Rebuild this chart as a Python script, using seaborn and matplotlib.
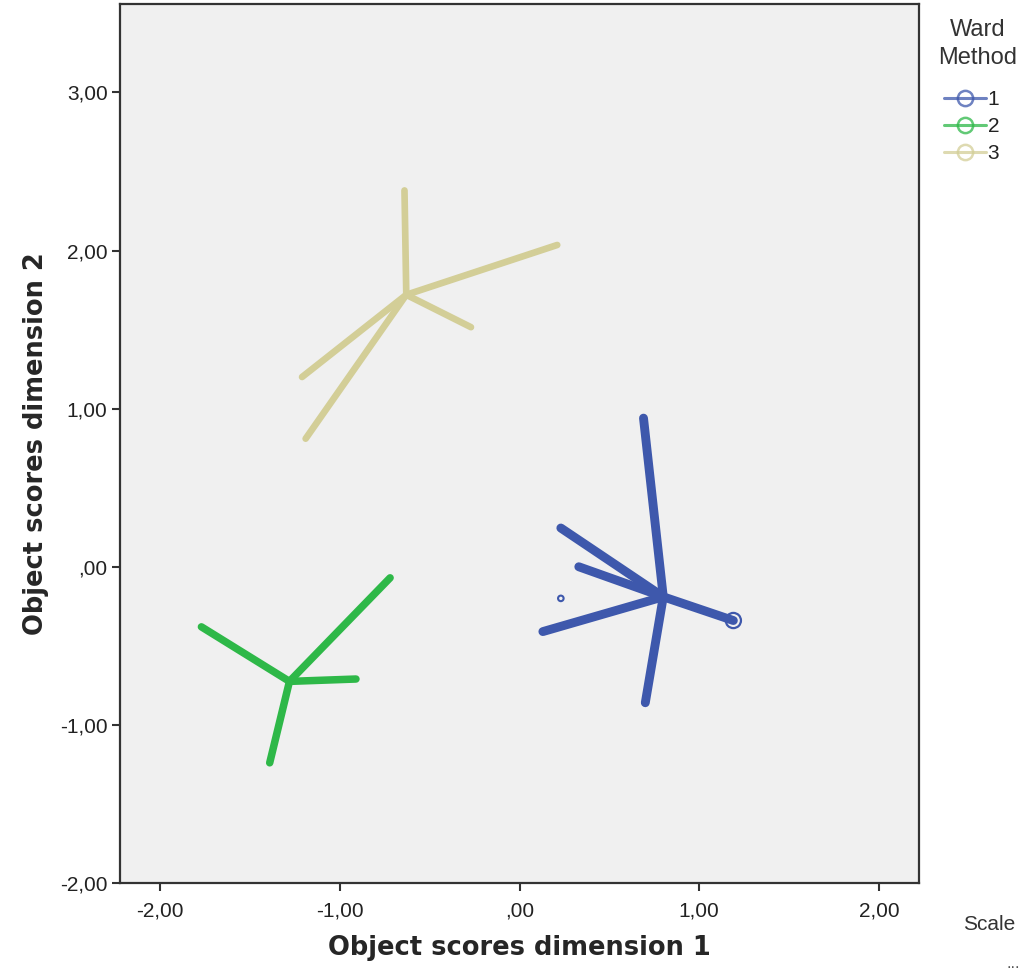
import matplotlib
matplotlib.use("Agg")
import matplotlib.pyplot as plt
from matplotlib.lines import Line2D
from matplotlib.ticker import FuncFormatter
import numpy as np
import pandas as pd
import seaborn as sns

# Ward clusters: centroid and the object scores joined to it
clusters = ["1", "2", "3"]
centroid_1 = (0.80, -0.19)
points_1_x = [0.69, 0.70, 0.23, 0.33, 0.13, 1.19]
points_1_y = [0.94, -0.86, 0.245, 0.00, -0.41, -0.34]
centroid_2 = (-1.28, -0.725)
points_2_x = [-1.77, -0.72, -0.91, -1.39]
points_2_y = [-0.38, -0.07, -0.71, -1.24]
centroid_3 = (-0.63, 1.72)
points_3_x = [-0.64, 0.21, -0.27, -1.21, -1.19]
points_3_y = [2.38, 2.035, 1.515, 1.20, 0.81]
# isolated case of cluster 1
lone_x = [0.23]
lone_y = [-0.20]

colors = {"1": "#3E58AC", "2": "#2EB848", "3": "#D3CE97"}
widths = {"1": 6.4, "2": 5.4, "3": 4.8}

rows = []
spoke = 0
for name, c, xs, ys in [("1", centroid_1, points_1_x, points_1_y),
                        ("2", centroid_2, points_2_x, points_2_y),
                        ("3", centroid_3, points_3_x, points_3_y)]:
    for px, py in zip(xs, ys):
        rows.append({"x": c[0], "y": c[1], "cluster": name, "spoke": spoke, "order": 0})
        rows.append({"x": px, "y": py, "cluster": name, "spoke": spoke, "order": 1})
        spoke += 1
df = pd.DataFrame(rows)

sns.set_theme(style="ticks")
plt.rcParams["font.family"] = ["Liberation Sans", "DejaVu Sans"]

fig = plt.figure(figsize=(10.23, 9.75), dpi=100)
ax = fig.add_axes([120 / 1023, 1 - 883 / 975, 799 / 1023, 879 / 975])
ax.set_facecolor("#F0F0F0")

sns.lineplot(data=df, x="x", y="y", hue="cluster", units="spoke", estimator=None,
             sort=False, size="cluster", sizes=widths, palette=colors,
             legend=False, ax=ax, solid_capstyle="round")

# open circle at the far case of cluster 1, and the isolated case
ax.scatter([points_1_x[5]], [points_1_y[5]], s=120, facecolors="none",
           edgecolors=colors["1"], linewidths=1.6, zorder=5)
ax.scatter(lone_x, lone_y, s=16, facecolors="none",
           edgecolors=colors["1"], linewidths=1.5, zorder=5)

ax.set_xlim(-2.223, 2.223)
ax.set_ylim(-2.0, 3.559)
ax.set_xticks([-2, -1, 0, 1, 2])
ax.set_yticks([-2, -1, 0, 1, 2, 3])


def fmt(v, pos):
    s = f"{v:.2f}".replace(".", ",")
    if s.startswith("0,"):
        s = s[1:]
    if s == "-0,00":
        s = ",00"
    return s


ax.xaxis.set_major_formatter(FuncFormatter(fmt))
ax.yaxis.set_major_formatter(FuncFormatter(fmt))
ax.tick_params(axis="both", direction="out", length=6, width=1.5, color="#333333",
               labelsize=15, labelcolor="#222222", pad=3)
ax.tick_params(axis="x", pad=7)
for sp in ax.spines.values():
    sp.set_visible(True)
    sp.set_color("#333333")
    sp.set_linewidth(1.6)

ax.set_xlabel("Object scores dimension 1", fontsize=18.5, fontweight="bold",
              family="DejaVu Sans", labelpad=11)
ax.set_ylabel("Object scores dimension 2", fontsize=18.5, fontweight="bold",
              family="DejaVu Sans", labelpad=8)

# legend: heading above, one line-and-circle entry per cluster
fig.text(978 / 1023, 1 - 44 / 975, "Ward\nMethod", fontsize=17, color="#333333",
         ha="center", va="center", multialignment="center", linespacing=1.3)
handles = [Line2D([0], [0], color=colors[c], lw=2.2, alpha=0.75, marker="o",
                  markersize=11, markerfacecolor="none", markeredgewidth=1.8,
                  markeredgecolor=colors[c]) for c in clusters]
leg = fig.legend(handles, clusters, loc="upper left",
                 bbox_to_anchor=(944 / 1023, 1 - 90 / 975), frameon=False,
                 fontsize=15, handlelength=2.0, handletextpad=0.1,
                 labelspacing=0.38, borderaxespad=0, borderpad=0)
for t in leg.get_texts():
    t.set_color("#222222")

fig.text(989 / 1023, 1 - 925 / 975, "Scale", fontsize=15, color="#333333",
         ha="center", va="center")
fig.text(1013 / 1023, 1 - 963 / 975, "...", fontsize=12, color="#555555",
         ha="center", va="center")

fig.savefig("out.png", dpi=100, facecolor="white")
